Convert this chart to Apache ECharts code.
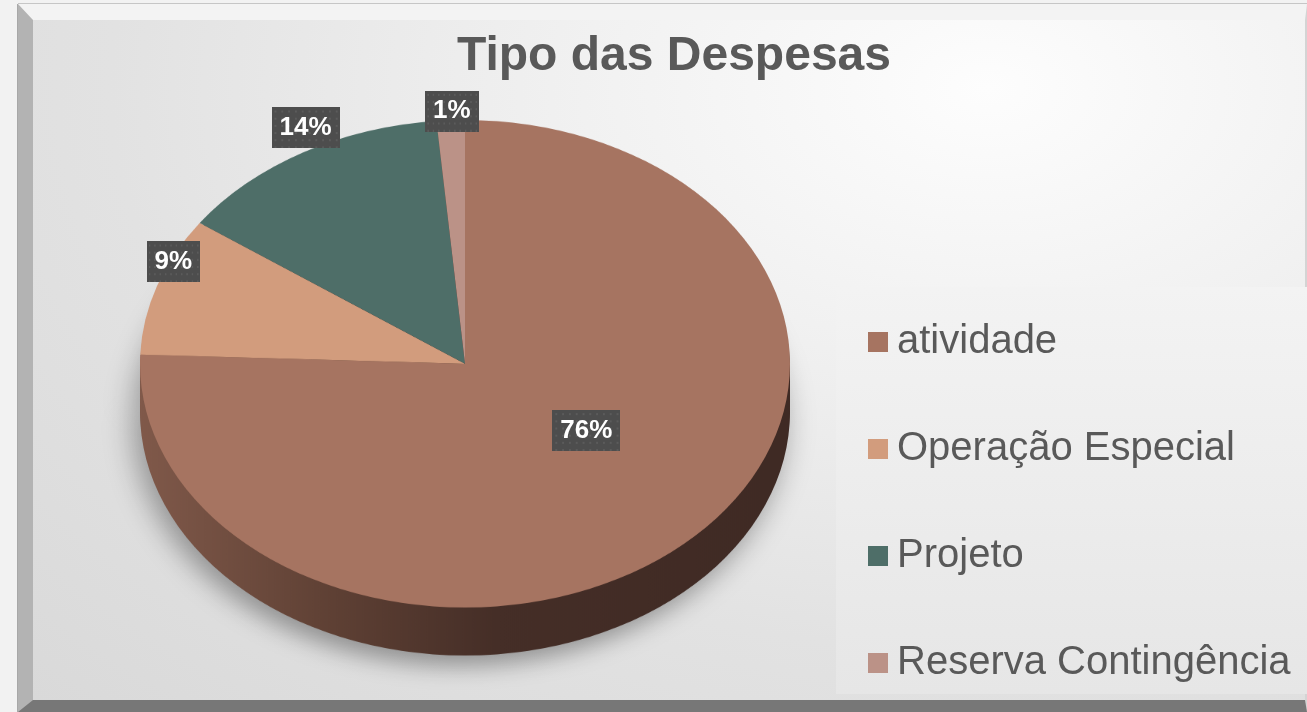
<!DOCTYPE html>
<html>
<head>
<meta charset="utf-8">
<script src="https://cdn.jsdelivr.net/npm/echarts@6/dist/echarts.min.js"></script>
<style>
  html, body { margin: 0; padding: 0; width: 1307px; height: 712px; overflow: hidden; background: #f2f2f2; }
  #frame {
    position: absolute; left: 18px; top: 4px; width: 1289px; height: 708px; box-sizing: border-box;
    border-top: 16px solid #f3f3f3; border-left: 15px solid #b3b3b3;
    border-bottom: 12px solid #777777; border-right: 2px solid #d4d4d4;
    box-shadow: 0 -1px 0 #c6c6c6, -1px 0 0 #a8a8a8;
    background: radial-gradient(ellipse at 75% 10%, #fdfdfd 0%, #f1f1f1 30%, #e2e2e2 65%, #d9d9d9 100%);
  }
  #pieA { position: absolute; left: 0; top: 0; width: 1307px; height: 950px; transform: scaleY(0.75); transform-origin: 0 0; }
  #chartB { position: absolute; left: 0; top: 0; width: 1307px; height: 712px; }
</style>
</head>
<body>
<div id="frame"></div>
<div id="pieA"></div>
<div id="chartB"></div>
<script>
// dados
var categorias = ['atividade', 'Operação Especial', 'Projeto', 'Reserva Contingência'];
var valores = [75.6, 9.2, 13.8, 1.4];
var cores = ['#a67461', '#d29c7d', '#4e6e68', '#bb9287'];

var TILT = 0.75;          // inclinação da pizza 3D
var PIE_CX = 465;
var PIE_CY = 485;         // centro (antes do achatamento)
var RAIO = 325;
var ESPESSURA = [64, 56, 48, 40, 32, 24, 16, 8];  // camadas da lateral

var FONTE = '"Liberation Sans", Arial, sans-serif';

function dadosPizza(cor) {
  return categorias.map(function (nome, i) {
    return { name: nome, value: valores[i], itemStyle: { color: cor ? cor : cores[i] } };
  });
}

var lateral = new echarts.graphic.LinearGradient(0, 0, 1, 0, [
  { offset: 0, color: '#80594a' },
  { offset: 0.3, color: '#5e4034' },
  { offset: 0.55, color: '#452e27' },
  { offset: 1, color: '#3f2a24' }
]);

var seriesA = [];
ESPESSURA.forEach(function (off, k) {
  seriesA.push({
    type: 'pie',
    silent: true,
    animation: false,
    center: [PIE_CX, PIE_CY + off],
    radius: RAIO,
    startAngle: 90,
    clockwise: true,
    label: { show: false },
    labelLine: { show: false },
    itemStyle: k === 0 ? {
      borderWidth: 0,
      shadowColor: 'rgba(0,0,0,0.35)',
      shadowBlur: 30,
      shadowOffsetY: 14,
      shadowOffsetX: -6
    } : { borderWidth: 0 },
    data: dadosPizza(lateral)
  });
});
// face superior
seriesA.push({
  type: 'pie',
  silent: true,
  animation: false,
  center: [PIE_CX, PIE_CY],
  radius: RAIO,
  startAngle: 90,
  clockwise: true,
  label: { show: false },
  labelLine: { show: false },
  itemStyle: { borderWidth: 0 },
  data: dadosPizza()
});

var chartA = echarts.init(document.getElementById('pieA'));
chartA.setOption({ animation: false, series: seriesA });

// fundo pontilhado dos rotulos
var fundo = document.createElement('canvas');
fundo.width = 70; fundo.height = 40;
var g = fundo.getContext('2d');
g.fillStyle = '#4d4d4d';
g.fillRect(0, 0, 70, 40);
g.fillStyle = '#5b5b5b';
for (var yy = 3; yy < 40; yy += 7) {
  for (var xx = 3; xx < 70; xx += 7) g.fillRect(xx, yy, 2, 2);
}

// titulo, legenda e rotulos
var LBL_CY = 336;
var compLinha = [-125, 8, 20, 0];

var chartB = echarts.init(document.getElementById('chartB'));
chartB.setOption({
  animation: false,
  title: {
    text: 'Tipo das Despesas',
    left: 452,
    top: 28,
    textStyle: { fontSize: 48, fontWeight: 'bold', color: '#595959', fontFamily: FONTE }
  },
  legend: {
    orient: 'vertical',
    left: 836,
    top: 287,
    padding: [34, 30, 10, 32],
    backgroundColor: new echarts.graphic.LinearGradient(0, 0, 0, 1, [
      { offset: 0, color: '#f3f3f3' },
      { offset: 1, color: '#e6e6e6' }
    ]),
    itemGap: 65,
    itemWidth: 20,
    itemHeight: 20,
    icon: 'rect',
    selectedMode: false,
    textStyle: { fontSize: 40, lineHeight: 42, color: '#595959', fontFamily: FONTE, padding: [0, 0, 0, 4] },
    data: categorias.map(function (nome, i) {
      return { name: nome, itemStyle: { color: cores[i], opacity: 1, borderWidth: 0 } };
    })
  },
  series: [{
    type: 'pie',
    center: [PIE_CX, LBL_CY],
    radius: [0, 300],
    startAngle: 90,
    clockwise: true,
    silent: true,
    avoidLabelOverlap: false,
    percentPrecision: 0,
    emphasis: { disabled: true },
    itemStyle: { color: 'transparent', borderWidth: 0 },
    label: {
      show: true,
      position: 'outside',
      formatter: '{d}%',
      color: '#ffffff',
      fontWeight: 'bold',
      fontSize: 26,
      lineHeight: 27,
      fontFamily: FONTE,
      backgroundColor: { image: fundo },
      padding: [7, 8, 7, 8],
      shadowColor: 'rgba(0,0,0,0.45)',
      shadowBlur: 6,
      shadowOffsetX: 3,
      shadowOffsetY: 3,
      distanceToLabelLine: 0
    },
    labelLine: { show: true, length2: 0, lineStyle: { color: 'transparent', width: 0 } },
    labelLayout: function (p) {
      var x, y;
      var pts = p.labelLinePoints;
      if (pts && pts.length) {
        x = pts[pts.length - 1][0];
        y = pts[pts.length - 1][1];
      } else {
        x = p.labelRect.x + p.labelRect.width / 2;
        y = p.labelRect.y + p.labelRect.height / 2;
      }
      return { x: x, y: LBL_CY + (y - LBL_CY) * TILT, align: 'center', verticalAlign: 'middle' };
    },
    data: categorias.map(function (nome, i) {
      return { name: nome, value: valores[i], labelLine: { length: compLinha[i] } };
    })
  }]
});
</script>
</body>
</html>
